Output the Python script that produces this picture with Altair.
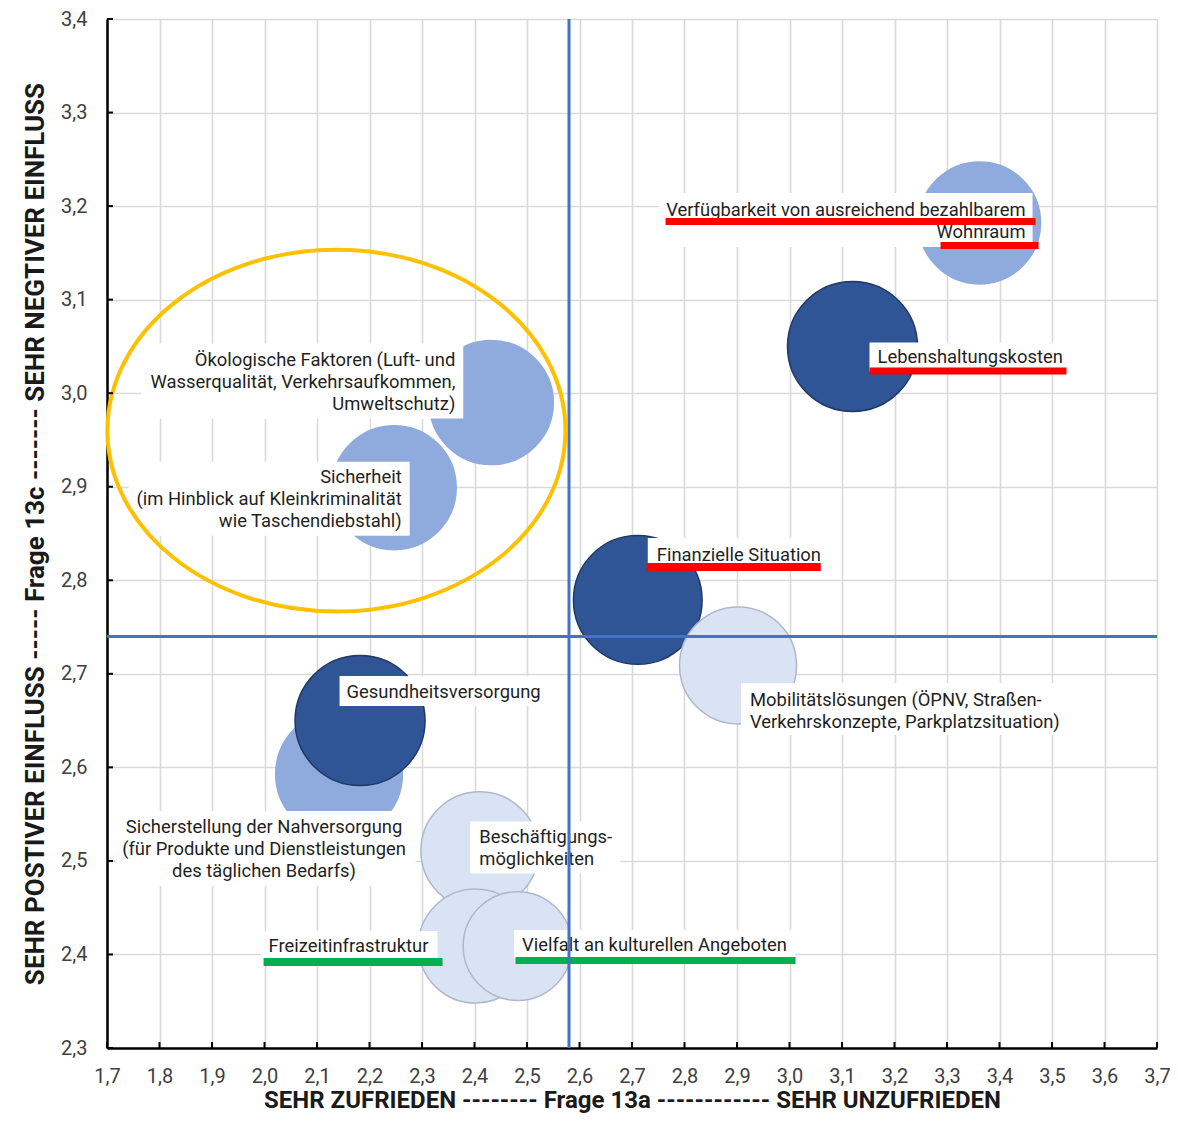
import altair as alt
import pandas as pd

# ---------------- data ----------------
themen = [
    "Sicherstellung der Nahversorgung\n(für Produkte und Dienstleistungen\ndes täglichen Bedarfs)",
    "Gesundheitsversorgung",
    "Ökologische Faktoren (Luft- und\nWasserqualität, Verkehrsaufkommen,\nUmweltschutz)",
    "Sicherheit\n(im Hinblick auf Kleinkriminalität\nwie Taschendiebstahl)",
    "Finanzielle Situation",
    "Mobilitätslösungen (ÖPNV, Straßen-\nVerkehrskonzepte, Parkplatzsituation)",
    "Beschäftigungs-\nmöglichkeiten",
    "Freizeitinfrastruktur",
    "Vielfalt an kulturellen Angeboten",
    "Verfügbarkeit von ausreichend bezahlbarem\nWohnraum",
    "Lebenshaltungskosten",
]
frage_13a = [2.142, 2.182, 2.432, 2.247, 2.711, 2.902, 2.410, 2.402, 2.482, 3.362, 3.120]
frage_13c = [2.593, 2.650, 2.990, 2.899, 2.779, 2.709, 2.511, 2.409, 2.409, 3.182, 3.050]
gewicht = [95, 100, 91, 91, 98, 81, 82, 77, 70, 88, 100]
gruppe = ["mittel", "dunkel", "mittel", "mittel", "dunkel", "hell", "hell", "hell", "hell", "mittel", "dunkel"]

mittel_13a = 2.58
mittel_13c = 2.74

x_ticks = [1.7, 1.8, 1.9, 2.0, 2.1, 2.2, 2.3, 2.4, 2.5, 2.6, 2.7, 2.8, 2.9, 3.0, 3.1, 3.2, 3.3, 3.4, 3.5, 3.6, 3.7]
y_ticks = [2.3, 2.4, 2.5, 2.6, 2.7, 2.8, 2.9, 3.0, 3.1, 3.2, 3.3, 3.4]

ellipse_center_x = [2.137]
ellipse_center_y = [2.960]

# ---------------- layout / style ----------------
W, H = 1050, 1029
FONT = "Roboto"

# per label: align, dx, dy (first line), box (x0,y0,x1,y1) px relative to bubble centre, bars
label_layout = [
    dict(align="center", dx=-75, dy=53, box=(-222.5, 37, 76.5, 112), bars=[]),
    dict(align="left", dx=-13.5, dy=-28.5, box=(-20.5, -44.5, 185.5, -14.5), bars=[]),
    dict(align="right", dx=-36, dy=-43, box=(-350, -59, -28, 16), bars=[]),
    dict(align="right", dx=7.5, dy=-11, box=(-265.5, -26, 15.5, 48), bars=[]),
    dict(align="left", dx=19, dy=-45, box=(10, -62, 183, -37), bars=[((9, -37, 183, -29), "#ff0000")]),
    dict(align="left", dx=12, dy=34.5, box=(3, 17.5, 325, 69.5), bars=[]),
    dict(align="left", dx=-0.5, dy=-14, box=(-9.5, -29, 140.5, 23), bars=[]),
    dict(align="left", dx=-207, dy=0, box=(-214, -15, -38, 12), bars=[((-212, 12, -33, 20), "#00b050")]),
    dict(align="left", dx=4.5, dy=-1, box=(-3.5, -16, 277.5, 12), bars=[((-2, 11, 278, 18), "#00b050")]),
    dict(align="right", dx=46, dy=-13, box=(-321, -30, 53, 24),
         bars=[((-314, -5, 56, 2), "#ff0000"), ((-39, 19, 59, 26), "#ff0000")]),
    dict(align="left", dx=25, dy=11, box=(17, -4, 213, 25), bars=[((17, 21, 214, 28), "#ff0000")]),
]

df = pd.DataFrame({"thema": themen, "x": frage_13a, "y": frage_13c,
                   "gewicht": gewicht, "gruppe": gruppe})

xscale = alt.Scale(domain=[1.7, 3.7], nice=False, zero=False)
yscale = alt.Scale(domain=[2.3, 3.4], nice=False, zero=False)
label_expr = "replace(format(datum.value, '.1f'), '.', ',')"

xaxis = alt.Axis(values=x_ticks, labelExpr=label_expr,
                 title="SEHR ZUFRIEDEN -------- Frage 13a ------------ SEHR UNZUFRIEDEN",
                 grid=True, gridColor="#d9d9d9", gridWidth=1.6,
                 domainColor="black", domainWidth=2.5, ticks=False, tickSize=0,
                 labelFont=FONT, labelFontSize=20, labelColor="#404040", labelPadding=18,
                 labelFlush=False, labelOverlap=False,
                 titleFont=FONT, titleFontSize=24, titleFontWeight="bold", titleColor="#1a1a1a",
                 titlePadding=2)
yaxis = alt.Axis(values=y_ticks, labelExpr=label_expr,
                 title="SEHR POSTIVER EINFLUSS ----- Frage 13c ------- SEHR NEGTIVER EINFLUSS",
                 grid=True, gridColor="#d9d9d9", gridWidth=1.6,
                 domainColor="black", domainWidth=2.5, ticks=False, tickSize=0,
                 labelFont=FONT, labelFontSize=20, labelColor="#404040", labelPadding=20,
                 labelFlush=False, labelOverlap=False,
                 titleFont=FONT, titleFontSize=26, titleFontWeight="bold", titleColor="#1a1a1a",
                 titlePadding=12)

X = alt.X("x:Q", scale=xscale, axis=xaxis)
Y = alt.Y("y:Q", scale=yscale, axis=yaxis)

base = alt.Chart(df)

bubbles = base.mark_circle(opacity=1, strokeWidth=1.5).encode(
    x=X, y=Y,
    size=alt.Size("gewicht:Q", scale=alt.Scale(domain=[0, 100], range=[0, 16900]), legend=None),
    fill=alt.Fill("gruppe:N", scale=alt.Scale(domain=["dunkel", "mittel", "hell"],
                                               range=["#2f5597", "#8faadc", "#dae3f3"]), legend=None),
    stroke=alt.Stroke("gruppe:N", scale=alt.Scale(domain=["dunkel", "mittel", "hell"],
                                                   range=["#1f3864", "#8faadc", "#adb9ca"]), legend=None),
)

def rect_path(b):
    x0, y0, x1, y1 = b
    return f"M{x0},{y0}H{x1}V{y1}H{x0}Z"

layers = [bubbles]
box_layers, text_layers, bar_layers = [], [], []
for i, lay in enumerate(label_layout):
    one = alt.Chart(df.iloc[[i]])
    box_layers.append(one.mark_point(shape=rect_path(lay["box"]), size=4, filled=True,
                                     color="white", opacity=1, strokeWidth=0).encode(x=X, y=Y))
    text_layers.append(one.mark_text(align=lay["align"], baseline="middle", dx=lay["dx"], dy=lay["dy"],
                                     lineBreak="\n", lineHeight=22, font=FONT, fontSize=18.4,
                                     color="#1f1f1f").encode(x=X, y=Y, text="thema:N"))
    for b, col in lay["bars"]:
        bar_layers.append(one.mark_point(shape=rect_path(b), size=4, filled=True,
                                         color=col, opacity=1, strokeWidth=0).encode(x=X, y=Y))
layers += box_layers + text_layers + bar_layers

vline = alt.Chart(pd.DataFrame({"x": [mittel_13a]})).mark_rule(color="#4472c4", strokeWidth=3).encode(x=X)
hline = alt.Chart(pd.DataFrame({"y": [mittel_13c]})).mark_rule(color="#4472c4", strokeWidth=3).encode(y=Y)

k = 0.5523
ry = 0.79
ellipse_path = (f"M-1,0C-1,{-k*ry:.4f} {-k},{-ry} 0,{-ry}C{k},{-ry} 1,{-k*ry:.4f} 1,0"
                f"C1,{k*ry:.4f} {k},{ry} 0,{ry}C{-k},{ry} -1,{k*ry:.4f} -1,0Z")
ellipse = alt.Chart(pd.DataFrame({"x": ellipse_center_x, "y": ellipse_center_y})).mark_point(
    shape=ellipse_path, size=458 ** 2, filled=False, stroke="#ffc000", strokeWidth=4, opacity=1
).encode(x=X, y=Y)

xtick_marks = alt.Chart(pd.DataFrame({"x": x_ticks})).mark_rule(color="black", strokeWidth=2).encode(
    x=X, y=alt.value(H), y2=alt.value(H - 6))
ytick_marks = alt.Chart(pd.DataFrame({"y": y_ticks})).mark_rule(color="black", strokeWidth=2).encode(
    y=Y, x=alt.value(0), x2=alt.value(6))

layers += [vline, hline, ellipse, xtick_marks, ytick_marks]

chart = alt.layer(*layers).properties(
    width=W, height=H,
    autosize=alt.AutoSizeParams(type="none"),
    padding={"left": 99, "top": 11, "right": 13, "bottom": 65},
).configure_view(stroke=None).configure(background="white")

chart.save("out.html", embed_options={"renderer": "svg", "actions": False})
